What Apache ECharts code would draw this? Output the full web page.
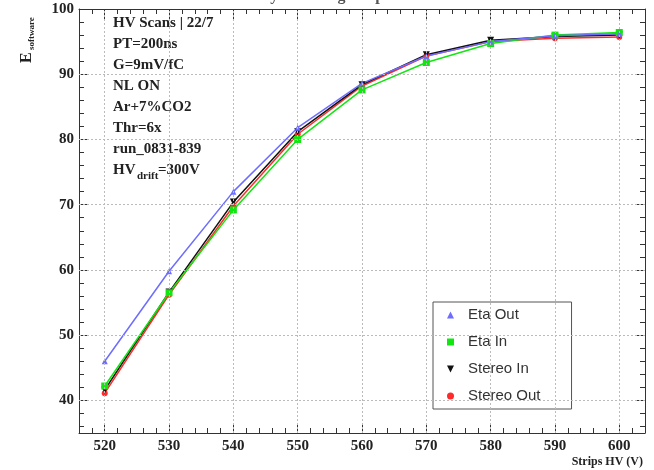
<!DOCTYPE html>
<html>
<head>
<meta charset="utf-8">
<script src="https://cdn.jsdelivr.net/npm/echarts@6/dist/echarts.min.js"></script>
<style>
  html, body { margin: 0; padding: 0; background: #fff; }
  #chart-container { width: 654px; height: 470px; }
</style>
</head>
<body>
<div id="chart-container"></div>
<script>
// strips HV (V)
let hv = [520, 530, 540, 550, 560, 570, 580, 590, 600];
// efficiency per layer
let etaOut = [46.0, 59.8, 72.0, 81.8, 88.6, 92.8, 95.0, 95.9, 96.2];
let etaIn = [42.2, 56.5, 69.2, 80.0, 87.6, 91.8, 94.7, 96.0, 96.4];
let stereoIn = [41.6, 56.6, 70.4, 81.2, 88.4, 93.0, 95.2, 95.8, 96.0];
let stereoOut = [41.1, 56.2, 69.8, 80.8, 88.2, 92.8, 95.0, 95.5, 95.7];

let xMajor = [520, 530, 540, 550, 560, 570, 580, 590, 600];
let yMajor = [40, 50, 60, 70, 80, 90, 100];
let infoLines = ["HV Scans | 22/7", "PT=200ns", "G=9mV/fC", "NL ON", "Ar+7%CO2", "Thr=6x", "run_0831-839"];

let xMinor = [];
for (let v = 516; v <= 604; v += 2) xMinor.push(v);
let yMinor = [];
for (let v = 36; v <= 100; v += 2) yMinor.push(v);

function pairs(ys) {
    return hv.map((x, i) => [x, ys[i]]);
}

let serif = "Liberation Serif";
let frame = "#333";

function majorAxis(kind, pos, withLabels) {
    let isX = kind === "x";
    let vals = isX ? xMajor : yMajor;
    return {
        type: "value",
        position: pos,
        min: isX ? 516 : 35,
        max: isX ? 604 : 100,
        axisLine: { show: true, onZero: false, lineStyle: { color: frame, width: 1 } },
        axisTick: { show: true, inside: true, length: 10, customValues: vals, lineStyle: { color: frame } },
        axisLabel: {
            show: withLabels,
            customValues: vals,
            fontFamily: serif,
            fontWeight: "bold",
            fontSize: 15,
            color: "#222",
            margin: isX ? 6 : 5,
        },
        splitLine: { show: false },
    };
}

function minorAxis(kind, pos) {
    let isX = kind === "x";
    return {
        type: "value",
        position: pos,
        min: isX ? 516 : 35,
        max: isX ? 604 : 100,
        axisLine: { show: false, onZero: false },
        axisTick: { show: true, inside: true, length: 5, customValues: isX ? xMinor : yMinor, lineStyle: { color: frame } },
        axisLabel: { show: false },
        splitLine: { show: false },
    };
}

let gridLines = xMajor.map((v) => ({ xAxis: v }))
    .concat(yMajor.filter((v) => v < 100).map((v) => ({ yAxis: v })));

let textChildren = infoLines.map((t, i) => ({
    type: "text",
    left: 113,
    top: 16 + 21 * i,
    style: { text: t, font: "bold 15px " + serif, fill: "#222" },
}));

let dom = document.getElementById("chart-container");
let myChart = echarts.init(dom, null, { renderer: "canvas" });

let option = {
    animation: false,
    grid: { left: 79, right: 9, top: 9, bottom: 37, containLabel: false },
    xAxis: [
        majorAxis("x", "bottom", true),
        minorAxis("x", "bottom"),
        majorAxis("x", "top", false),
        minorAxis("x", "top"),
    ],
    yAxis: [
        majorAxis("y", "left", true),
        minorAxis("y", "left"),
        majorAxis("y", "right", false),
        minorAxis("y", "right"),
    ],
    legend: {
        orient: "vertical",
        left: 433,
        top: 302,
        padding: [3, 31, 3, 14],
        itemGap: 7,
        itemWidth: 7,
        itemHeight: 7,
        borderColor: "#555",
        borderWidth: 1,
        backgroundColor: "#fff",
        textStyle: { fontFamily: "Liberation Sans", fontSize: 15, color: "#333", lineHeight: 20, padding: [0, 0, 0, 9] },
        data: [
            { name: "Eta Out", icon: "triangle" },
            { name: "Eta In", icon: "rect" },
            { name: "Stereo In", icon: "path://M0,0 L10,0 L5,10 Z" },
            { name: "Stereo Out", icon: "circle" },
        ],
    },
    graphic: [
        {
            type: "text",
            left: "center",
            top: -12,
            style: { text: "Efficiency Scanning Strips Results", font: "bold 16px " + serif, fill: "#555" },
        },
        ...textChildren,
        {
            type: "group",
            left: 113,
            top: 163,
            children: [
                { type: "text", x: 0, y: 0, style: { text: "HV", font: "bold 15px " + serif, fill: "#222" } },
                { type: "text", x: 24, y: 8, style: { text: "drift", font: "bold 11px " + serif, fill: "#222" } },
                { type: "text", x: 45, y: 0, style: { text: "=300V", font: "bold 15px " + serif, fill: "#222" } },
            ],
        },
        {
            type: "group",
            x: 27,
            y: 63,
            rotation: Math.PI / 2,
            children: [
                { type: "text", x: 0, y: 0, style: { text: "E", font: "bold 16px " + serif, fill: "#222", verticalAlign: "middle" } },
                { type: "text", x: 13, y: 5, style: { text: "software", font: "bold 9px " + serif, fill: "#222", verticalAlign: "middle" } },
            ],
        },
        {
            type: "text",
            right: 11,
            top: 456,
            style: { text: "Strips HV (V)", font: "bold 12px " + serif, fill: "#222" },
        },
    ],
    series: [
        {
            name: "grid",
            type: "line",
            data: [],
            silent: true,
            markLine: {
                silent: true,
                symbol: "none",
                label: { show: false },
                lineStyle: { color: "#bbb", type: [2, 2], width: 1 },
                data: gridLines,
            },
        },
        {
            name: "Stereo Out",
            type: "line",
            data: pairs(stereoOut),
            symbol: "circle",
            symbolSize: 6,
            itemStyle: { color: "#ff2a2a" },
            lineStyle: { width: 1.5, color: "#ff2a2a" },
        },
        {
            name: "Stereo In",
            type: "line",
            data: pairs(stereoIn),
            symbol: "triangle",
            symbolRotate: 180,
            symbolSize: 7,
            itemStyle: { color: "#111" },
            lineStyle: { width: 1.5, color: "#111" },
        },
        {
            name: "Eta In",
            type: "line",
            data: pairs(etaIn),
            symbol: "rect",
            symbolSize: 7,
            itemStyle: { color: "#11e611" },
            lineStyle: { width: 1.5, color: "#11e611" },
        },
        {
            name: "Eta Out",
            type: "line",
            data: pairs(etaOut),
            symbol: "triangle",
            symbolSize: 6,
            itemStyle: { color: "#6d6dff" },
            lineStyle: { width: 1.5, color: "#6d6dff" },
        },
    ],
};

if (option && typeof option === "object") {
    myChart.setOption(option);
}

window.addEventListener("resize", myChart.resize);
</script>
</body>
</html>
